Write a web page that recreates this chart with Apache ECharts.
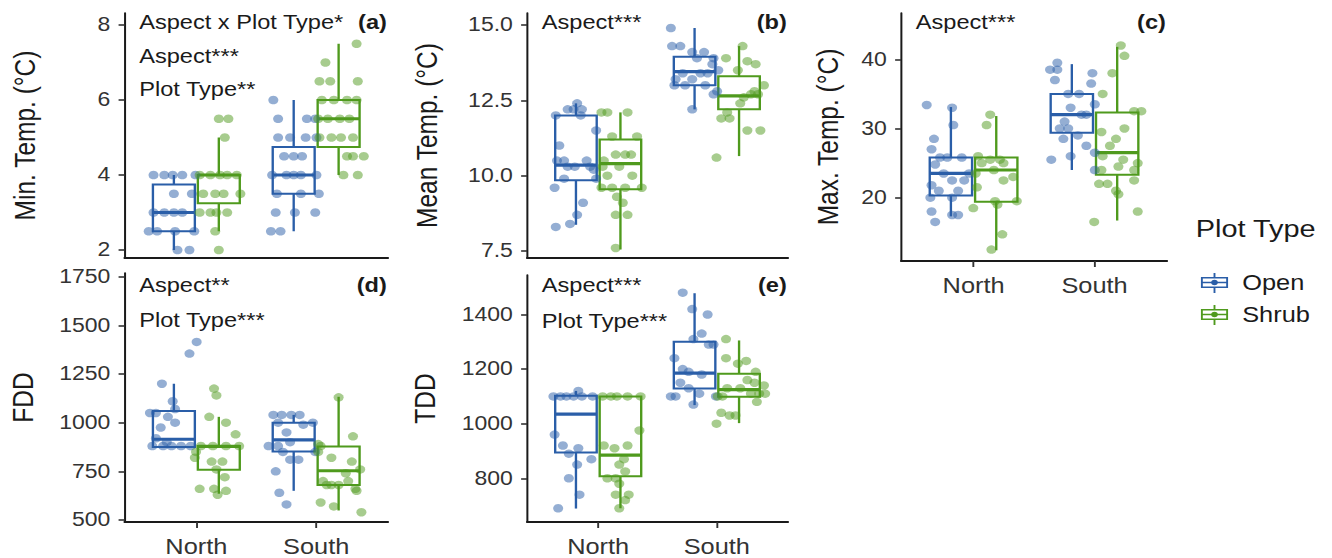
<!DOCTYPE html>
<html><head><meta charset="utf-8">
<script src="https://cdn.jsdelivr.net/npm/echarts@6/dist/echarts.min.js"></script>
<style>
html,body{margin:0;padding:0;background:#fff;overflow:hidden;}
#chart{width:1129px;height:558px;transform:scaleX(1.17981);transform-origin:0 0;}
</style></head><body><div id="chart"></div>
<script>
// ---------------- DATA ----------------
const categories = ['North', 'South'];
const plotTypes = ['Open', 'Shrub'];
// group order: North-Open, North-Shrub, South-Open, South-Shrub
// box stats: [lower whisker, Q1, median, Q3, upper whisker]
const minTempBox  = [[2,2.5,3,3.75,4],[2.5,3.25,4,4,5],[2.5,3.5,4,4.75,6],[4,4.75,5.5,6,7.5]];
const meanTempBox = [[8.37,9.85,10.35,12.0,12.4],[7.55,9.55,10.4,11.2,12.1],[12.2,13.0,13.45,13.95,14.9],[10.65,12.2,12.65,13.3,14.3]];
const maxTempBox  = [[17.3,20.3,23.5,25.8,33.1],[12.4,19.4,24.0,25.8,31.8],[24.0,29.4,32.0,35.0,39.3],[16.7,23.3,26.5,32.3,41.8]];
const fddBox      = [[875,875,915,1060,1200],[635,758,878,880,1030],[650,852,912,1000,1040],[549,680,753,878,1133]];
const tddBox      = [[689,894,1035,1102,1120],[690,807,885,1100,1100],[1068,1129,1185,1300,1478],[1002,1099,1125,1183,1305]];

// jittered observations: [jitter, value]
const minTempPts = [
 [[-0.17,4],[-0.08,4],[-0.01,4],[0.07,4],[0.18,4],[0.0,3.5],[0.15,3.5],[-0.17,3],[-0.08,3],[0.0,3],[0.07,3],[-0.21,2.5],[-0.14,2.5],[0.01,2.5],[0.17,2.5],[0.03,2],[0.13,2]],
 [[0.0,5.5],[0.08,5.5],[0.05,5],[-0.16,4],[-0.07,4],[0.01,4],[0.07,4],[0.15,4],[-0.13,3.5],[-0.03,3.5],[0.04,3.5],[0.18,3.5],[-0.16,3],[-0.07,3],[-0.02,3],[0.07,3],[-0.03,2.5],[0.0,2]],
 [[-0.17,6],[-0.13,5.5],[0.11,5.5],[0.18,5.5],[-0.13,5],[-0.03,5],[0.10,5],[0.19,5],[-0.08,4.5],[0.0,4.5],[0.07,4.5],[-0.18,4],[-0.06,4],[0.0,4],[0.06,4],[0.19,4],[-0.14,3.5],[0.06,3.5],[0.21,3.5],[-0.15,3],[0.01,3],[0.18,3],[-0.19,2.5],[-0.11,2.5]],
 [[0.15,7.5],[-0.11,7],[-0.16,6.5],[-0.07,6.5],[0.16,6.5],[-0.14,6],[-0.04,6],[0.07,6],[0.15,6],[-0.17,5.5],[-0.09,5.5],[0.01,5.5],[0.09,5.5],[-0.16,5],[-0.06,5],[0.02,5],[0.12,5],[0.07,4.5],[0.12,4.5],[0.21,4.5],[0.04,4],[0.16,4]]
];
const meanTempPts = [
 [[0.01,12.4],[-0.07,12.2],[-0.02,12.2],[0.05,12.2],[-0.17,12.0],[0.04,12.0],[0.17,11.5],[-0.14,11.0],[-0.16,10.5],[-0.10,10.5],[0.09,10.5],[-0.07,10.3],[-0.01,10.3],[0.12,10.3],[0.15,10.2],[-0.10,9.9],[0.17,9.9],[-0.18,9.6],[0.06,9.1],[0.01,8.7],[-0.05,8.4],[-0.17,8.3]],
 [[-0.16,12.1],[-0.11,12.1],[0.06,12.1],[-0.07,11.3],[0.14,11.3],[-0.04,10.7],[0.04,10.7],[0.09,10.7],[-0.14,10.5],[-0.15,10.3],[-0.01,10.3],[-0.11,10.0],[0.10,10.0],[-0.16,9.6],[-0.07,9.6],[0.04,9.6],[0.18,9.6],[-0.03,9.3],[0.02,9.1],[-0.04,8.7],[0.06,8.7],[-0.04,7.6]],
 [[-0.20,14.9],[-0.19,14.3],[-0.12,14.3],[-0.02,14.1],[0.08,14.1],[0.02,13.9],[0.16,13.9],[0.15,13.7],[0.20,13.5],[-0.10,13.4],[0.05,13.4],[0.11,13.4],[-0.16,13.2],[-0.02,13.2],[-0.17,13.0],[-0.08,13.0],[0.09,13.0],[0.19,12.8],[0.16,12.7],[-0.02,12.2]],
 [[0.03,14.3],[-0.11,13.9],[0.07,13.8],[0.14,13.7],[-0.01,13.5],[0.21,13.0],[0.13,12.8],[0.10,12.7],[0.16,12.7],[0.04,12.6],[0.01,12.4],[-0.10,12.1],[-0.15,11.9],[-0.08,11.9],[0.07,11.5],[0.18,11.5],[-0.19,10.6]]
];
const maxTempPts = [
 [[-0.20,33.4],[0.01,33.0],[0.02,30.5],[-0.14,28.5],[-0.16,27.0],[-0.09,25.8],[-0.03,25.8],[0.09,25.8],[-0.13,24.8],[-0.06,23.5],[0.15,23.5],[0.01,22.5],[0.11,22.5],[-0.16,21.8],[-0.10,21.0],[0.06,21.0],[-0.17,20.0],[0.01,20.0],[-0.16,18.0],[0.01,17.5],[0.06,17.5],[-0.13,16.5]],
 [[-0.05,32.0],[-0.08,30.5],[-0.15,26.0],[-0.05,25.5],[0.03,25.5],[-0.12,25.0],[0.06,25.0],[-0.02,24.0],[-0.17,23.5],[0.14,23.0],[0.06,22.5],[-0.16,21.5],[-0.01,19.5],[0.17,19.5],[0.01,19.0],[-0.19,18.5],[0.05,14.7],[-0.04,12.5]],
 [[-0.12,39.5],[-0.18,38.5],[-0.12,38.5],[0.17,38.0],[-0.14,37.0],[0.16,36.5],[-0.03,35.0],[0.06,35.0],[0.19,33.5],[-0.01,33.0],[0.08,32.0],[0.12,32.0],[-0.06,31.0],[-0.10,30.0],[-0.03,30.0],[0.05,29.0],[-0.07,28.5],[0.12,27.5],[0.19,26.5],[-0.01,26.0],[-0.17,25.5],[0.19,24.0]],
 [[0.03,42.0],[0.06,40.5],[-0.04,38.0],[-0.12,35.0],[0.14,32.5],[0.20,32.5],[0.06,30.0],[-0.13,29.5],[-0.01,28.5],[-0.06,27.5],[-0.12,26.0],[0.05,25.5],[0.17,25.0],[0.01,24.5],[-0.13,24.0],[0.14,24.0],[0.14,22.5],[-0.15,22.0],[-0.08,22.0],[-0.01,21.0],[0.01,20.5],[0.17,18.0],[-0.19,16.5]]
];
const fddPts = [
 [[0.19,1415],[0.13,1355],[-0.10,1200],[-0.01,1110],[0.01,1070],[-0.20,1050],[-0.15,1050],[-0.05,1030],[0.01,1000],[-0.11,975],[-0.15,920],[-0.06,900],[-0.18,880],[-0.09,880],[-0.02,880],[0.06,880],[0.14,880]],
 [[-0.04,1175],[-0.02,1140],[-0.08,1030],[0.06,1000],[0.14,940],[-0.15,880],[-0.05,880],[0.06,880],[0.17,880],[-0.19,850],[-0.20,820],[-0.06,800],[0.03,800],[-0.02,760],[0.05,720],[-0.16,660],[-0.04,660],[0.06,650],[-0.01,630]],
 [[-0.17,1040],[-0.10,1040],[-0.02,1040],[0.05,1040],[-0.13,1000],[0.16,1000],[0.08,990],[-0.06,950],[-0.03,900],[-0.21,880],[-0.13,880],[-0.09,850],[0.18,850],[-0.03,810],[0.04,810],[-0.15,750],[-0.12,640],[-0.06,580]],
 [[0.0,1130],[0.12,930],[-0.17,890],[-0.15,880],[-0.17,850],[-0.06,820],[0.11,800],[0.18,760],[0.06,740],[-0.13,700],[0.08,700],[-0.10,680],[-0.06,680],[0.0,680],[0.14,660],[0.15,650],[-0.15,590],[-0.04,570],[0.19,540]]
];
const tddPts = [
 [[0.02,1120],[-0.19,1100],[-0.13,1100],[-0.08,1100],[-0.02,1100],[0.05,1100],[0.14,1100],[-0.18,960],[-0.11,920],[0.02,910],[-0.06,890],[0.13,870],[0.01,850],[-0.06,800],[0.03,740],[-0.15,690]],
 [[-0.15,1100],[-0.08,1100],[-0.03,1100],[0.06,1100],[0.17,1100],[0.16,975],[-0.14,920],[0.06,920],[-0.05,910],[0.03,870],[-0.01,850],[0.04,825],[-0.11,800],[-0.04,800],[-0.01,780],[-0.04,740],[0.07,740],[0.04,720],[-0.01,690]],
 [[-0.10,1480],[-0.02,1420],[0.11,1400],[0.06,1330],[-0.01,1310],[0.12,1290],[0.16,1290],[-0.17,1240],[-0.10,1200],[-0.05,1190],[0.06,1180],[-0.12,1150],[-0.05,1130],[0.04,1110],[-0.20,1100],[-0.16,1100],[0.18,1100],[-0.01,1070]],
 [[-0.11,1310],[-0.11,1240],[0.06,1230],[-0.01,1220],[0.14,1190],[0.07,1160],[0.13,1150],[0.21,1140],[-0.10,1130],[0.01,1130],[0.10,1110],[0.17,1110],[0.22,1110],[-0.18,1100],[-0.14,1100],[0.15,1080],[-0.15,1040],[-0.08,1030],[-0.03,1030],[-0.19,1000]]
];

// tick labels
const minTempTicks  = [2, 4, 6, 8];
const meanTempTicks = [7.5, 10, 12.5, 15];
const maxTempTicks  = [20, 30, 40];
const fddTicks      = [500, 750, 1000, 1250, 1500, 1750];
const tddTicks      = [800, 1000, 1200, 1400];

// texts
const axisTitles = ['Min. Temp. (°C)', 'Mean Temp. (°C)', 'Max. Temp. (°C)', 'FDD', 'TDD'];
const panelTags = ['(a)', '(b)', '(c)', '(d)', '(e)'];
const panelNotes = [
  ['Aspect x Plot Type*', 'Aspect***', 'Plot Type**'],
  ['Aspect***'],
  ['Aspect***'],
  ['Aspect**', 'Plot Type***'],
  ['Aspect***', 'Plot Type***']
];
const legendTitle = 'Plot Type';

// ---------------- LAYOUT / STYLE ----------------
const FONT = "'Liberation Sans', Arial, Helvetica, sans-serif";
const COLORS = ['#2a5ea8', '#4f9a1d'];
const DODGE = 0.1875, BOX_W = 0.35;

const panels = [
  {box: minTempBox,  pts: minTempPts,  ticks: minTempTicks,  fmt: v => String(v),    grid: {left:105.5, top:13,  width:223.4, height:245}, ymin:1.787, ymax:8.32,  xlab:false, gap:72, notes:[22,56,89]},
  {box: meanTempBox, pts: meanTempPts, ticks: meanTempTicks, fmt: v => v.toFixed(1), grid: {left:446.7, top:13,  width:221.2, height:245}, ymin:7.268, ymax:15.398, xlab:false, gap:72, notes:[22]},
  {box: maxTempBox,  pts: maxTempPts,  ticks: maxTempTicks,  fmt: v => String(v),    grid: {left:763.7, top:13,  width:225.5, height:248}, ymin:10.85, ymax:46.69, xlab:true,  gap:49, notes:[22]},
  {box: fddBox,      pts: fddPts,      ticks: fddTicks,      fmt: v => String(v),    grid: {left:105.5, top:273, width:223.4, height:250}, ymin:489.8, ymax:1768.9, xlab:true, gap:73, notes:[285,320]},
  {box: tddBox,      pts: tddPts,      ticks: tddTicks,      fmt: v => String(v),    grid: {left:446.7, top:275, width:221.2, height:250}, ymin:639.7, ymax:1544.8, xlab:true, gap:74, notes:[285,321]}
];

function groupX(g) { return (g >> 1) + 1 + ((g & 1) ? DODGE : -DODGE); }

function renderBox(params, api) {
  const x = api.value(0);
  const lo = api.coord([x, api.value(1)]);
  const q1 = api.coord([x, api.value(2)]);
  const md = api.coord([x, api.value(3)]);
  const q3 = api.coord([x, api.value(4)]);
  const hi = api.coord([x, api.value(5)]);
  const hw = api.size([BOX_W, 0])[0] / 2;
  const color = api.visual('color');
  const cx = lo[0];
  return {type: 'group', children: [
    {type: 'line', shape: {x1: cx, y1: q3[1], x2: cx, y2: hi[1]}, style: {stroke: color, lineWidth: 2}},
    {type: 'line', shape: {x1: cx, y1: lo[1], x2: cx, y2: q1[1]}, style: {stroke: color, lineWidth: 2}},
    {type: 'rect', shape: {x: cx - hw, y: q3[1], width: 2 * hw, height: q1[1] - q3[1]}, style: {stroke: color, fill: 'none', lineWidth: 2}},
    {type: 'line', shape: {x1: cx - hw, y1: md[1], x2: cx + hw, y2: md[1]}, style: {stroke: color, lineWidth: 3.2}}
  ]};
}

const grids = [], xAxes = [], yAxes = [], series = [], graphics = [];
panels.forEach((p, i) => {
  grids.push(Object.assign({containLabel: false}, p.grid));
  xAxes.push({
    type: 'value', gridIndex: i, min: 0.4, max: 2.6, splitLine: {show: false},
    axisLine: {show: true, onZero: false, lineStyle: {color: '#1a1a1a', width: 1.8}},
    axisTick: {show: p.xlab, customValues: [1, 2], length: 6, lineStyle: {color: '#333', width: 1.6}},
    axisLabel: {show: p.xlab, customValues: [1, 2], formatter: v => categories[Math.round(v) - 1],
      fontSize: 21.5, color: '#333', margin: 14, fontFamily: FONT}
  });
  yAxes.push({
    type: 'value', gridIndex: i, min: p.ymin, max: p.ymax, splitLine: {show: false},
    name: axisTitles[i], nameLocation: 'middle', nameGap: p.gap,
    nameTextStyle: {fontSize: 24.5, color: '#1a1a1a', fontFamily: FONT},
    axisLine: {show: true, onZero: false, lineStyle: {color: '#1a1a1a', width: 1.7}},
    axisTick: {show: true, customValues: p.ticks, length: 5, lineStyle: {color: '#333', width: 1.6}},
    axisLabel: {customValues: p.ticks, formatter: p.fmt, fontSize: 19.5, color: '#333', margin: 12, fontFamily: FONT}
  });
  plotTypes.forEach((t, ti) => {
    const boxData = [], ptData = [];
    [0, 1].forEach(ci => {
      const g = ci * 2 + ti;
      const b = p.box[g];
      boxData.push([groupX(g), b[0], b[1], b[2], b[3], b[4]]);
      p.pts[g].forEach(d => ptData.push([groupX(g) + d[0], d[1]]));
    });
    series.push({
      type: 'custom', name: t, xAxisIndex: i, yAxisIndex: i, renderItem: renderBox,
      itemStyle: {color: COLORS[ti]}, data: boxData, clip: false, z: 2,
      encode: {x: 0, y: [1, 2, 3, 4, 5]}
    });
    series.push({
      type: 'scatter', name: t, xAxisIndex: i, yAxisIndex: i, symbolSize: 8.5,
      itemStyle: {color: COLORS[ti], opacity: 0.5}, data: ptData, z: 3, silent: true
    });
  });
  // annotations
  const left = p.grid.left + 12.5;
  p.notes.forEach((y, k) => {
    graphics.push({type: 'text', x: left, y: y, z: 10,
      style: {text: panelNotes[i][k], fontSize: 20, fontFamily: FONT, fill: '#1a1a1a', align: 'left', verticalAlign: 'middle'}});
  });
  graphics.push({type: 'text', x: p.grid.left + p.grid.width - 1, y: p.notes[0], z: 10,
    style: {text: panelTags[i], fontSize: 20, fontWeight: 'bold', fontFamily: FONT, fill: '#1a1a1a', align: 'right', verticalAlign: 'middle'}});
});

graphics.push({type: 'text', x: 1013.5, y: 229, z: 10,
  style: {text: legendTitle, fontSize: 24.5, fontFamily: FONT, fill: '#1a1a1a', align: 'left', verticalAlign: 'middle'}});

const ICON = 'path://M1 4H24V5.6H1Z M1 13.4H24V15H1Z M1 4H2.6V15H1Z M22.4 4H24V15H22.4Z M1 8.7H24V10.3H1Z M11.7 0H13.3V4H11.7Z M11.7 15H13.3V20H11.7Z M9.7 9.5A2.8 2.8 0 1 1 15.3 9.5A2.8 2.8 0 1 1 9.7 9.5Z';

const option = {
  animation: false,
  backgroundColor: '#fff',
  grid: grids, xAxis: xAxes, yAxis: yAxes, series: series,
  legend: {
    orient: 'vertical', left: 1012.9, top: 267, itemWidth: 25, itemHeight: 20, itemGap: 10,
    selectedMode: false,
    data: plotTypes.map((t, ti) => ({name: t, icon: ICON, itemStyle: {color: COLORS[ti], opacity: 1}})),
    formatter: '{t|{name}}',
    textStyle: {fontSize: 21.5, color: '#1a1a1a', fontFamily: FONT,
      rich: {t: {fontSize: 21.5, color: '#1a1a1a', fontFamily: FONT, padding: [0, 0, 0, 6]}}}
  },
  graphic: graphics
};

const chart = echarts.init(document.getElementById('chart'), null, {renderer: 'svg'});
chart.setOption(option);
</script></body></html>
